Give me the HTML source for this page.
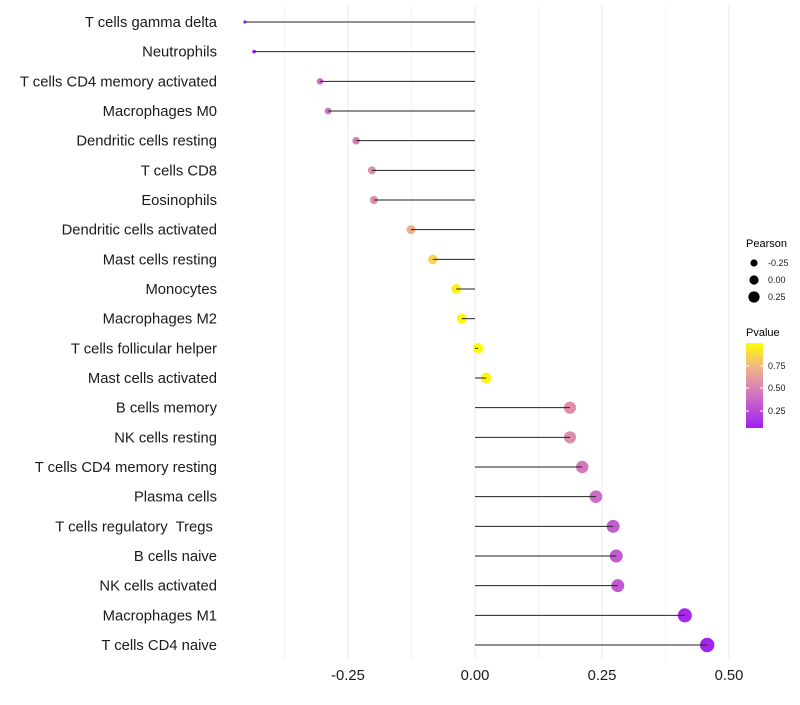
<!DOCTYPE html>
<html><head><meta charset="utf-8"><style>
body{margin:0;background:#fff;font-family:"Liberation Sans",sans-serif}
svg text{font-family:"Liberation Sans",sans-serif;white-space:pre}
</style></head><body>
<svg id="chart" width="800" height="700"></svg>
<script>
const categories=["T cells gamma delta","Neutrophils","T cells CD4 memory activated","Macrophages M0","Dendritic cells resting","T cells CD8","Eosinophils","Dendritic cells activated","Mast cells resting","Monocytes","Macrophages M2","T cells follicular helper","Mast cells activated","B cells memory","NK cells resting","T cells CD4 memory resting","Plasma cells","T cells regulatory  Tregs ","B cells naive","NK cells activated","Macrophages M1","T cells CD4 naive"];
const pearson=[-0.453,-0.435,-0.305,-0.289,-0.234,-0.203,-0.199,-0.126,-0.083,-0.037,-0.026,0.006,0.022,0.187,0.187,0.211,0.238,0.272,0.278,0.281,0.413,0.457];
const pvalue=[0.08,0.12,0.4,0.42,0.48,0.55,0.55,0.72,0.85,0.95,0.97,0.99,0.96,0.55,0.55,0.45,0.4,0.33,0.32,0.32,0.1,0.08];
const xTicks=[-0.25,0,0.25,0.5];
const xTickLabels=["-0.25","0.00","0.25","0.50"];
const NS="http://www.w3.org/2000/svg";
const svg=document.getElementById("chart");
const x=v=>475+v*508;
const y=i=>22+i*29.667;
const rScale=v=>Math.sqrt(2.5+Math.max(0,(v+0.453))/0.91*49.5);
const stops=[[0.06,[160,32,240]],[0.5,[216,132,184]],[0.75,[240,184,128]],[1,[255,255,0]]];
function col(p){
  p=Math.max(0.06,Math.min(1,p));
  let k=0;while(k<stops.length-2&&p>stops[k+1][0])k++;
  const a=stops[k],b=stops[k+1],u=(p-a[0])/(b[0]-a[0]);
  return `rgb(${[0,1,2].map(j=>Math.round(a[1][j]+(b[1][j]-a[1][j])*u)).join(",")})`;
}
function mk(tag,attrs,parent){const e=document.createElementNS(NS,tag);for(const k in attrs)e.setAttribute(k,attrs[k]);(parent||svg).appendChild(e);return e;}
const grid=mk("g",{});


[-0.375,-0.125,0.125,0.375].forEach(v=>mk("line",{x1:x(v),x2:x(v),y1:5,y2:660,stroke:"#f3f3f3","stroke-width":1},grid));
xTicks.forEach(v=>mk("line",{x1:x(v),x2:x(v),y1:5,y2:660,stroke:"#ebebeb","stroke-width":1},grid));
categories.forEach((c,i)=>{
  const t=mk("text",{x:217,y:y(i)+5,"text-anchor":"end","font-size":14.8,fill:"#1a1a1a"});
  t.textContent=c;
  
  
  const p=mk("circle",{cx:x(pearson[i]),cy:y(i),r:rScale(pearson[i]),fill:col(pvalue[i])});
  
  
  const l=mk("line",{x1:x(0),x2:x(pearson[i]),y1:y(i),y2:y(i),stroke:"#222","stroke-width":1});
  
  
});
xTicks.forEach((v,i)=>{
  const t=mk("text",{x:x(v),y:680,"text-anchor":"middle","font-size":14.8,fill:"#1a1a1a"});
  t.textContent=xTickLabels[i];
  
  
});
const lg=mk("g",{});


let tt=mk("text",{x:746,y:247,"font-size":11,fill:"#000"},lg);tt.textContent="Pearson";
[-0.25,0,0.25].forEach((v,i)=>{
  mk("circle",{cx:754,cy:263+i*17,r:[3.6,4.6,5.6][i],fill:"#000"},lg);
  const t=mk("text",{x:768,y:266+i*17,"font-size":9,fill:"#1a1a1a"},lg);t.textContent=["-0.25","0.00","0.25"][i];
});
const pg=mk("g",{});


tt=mk("text",{x:746,y:336,"font-size":11,fill:"#000"},pg);tt.textContent="Pvalue";
const defs=mk("defs",{});
const gr=mk("linearGradient",{id:"pg",x1:0,y1:1,x2:0,y2:0},defs);
[0,0.1,0.2,0.3,0.4,0.5,0.6,0.7,0.8,0.9,1].forEach(o=>mk("stop",{offset:o,"stop-color":col(0.06+o*0.94)},gr));
mk("rect",{x:746,y:343,width:17,height:85,fill:"url(#pg)"},pg);
[[0.75,366],[0.5,388],[0.25,411]].forEach(([v,yy])=>{
  mk("line",{x1:746,x2:749,y1:yy,y2:yy,stroke:"#fff"},pg);mk("line",{x1:760,x2:763,y1:yy,y2:yy,stroke:"#fff"},pg);
  const t=mk("text",{x:768,y:yy+3,"font-size":9,fill:"#1a1a1a"},pg);t.textContent=v.toFixed(2);
});
</script>
</body></html>
